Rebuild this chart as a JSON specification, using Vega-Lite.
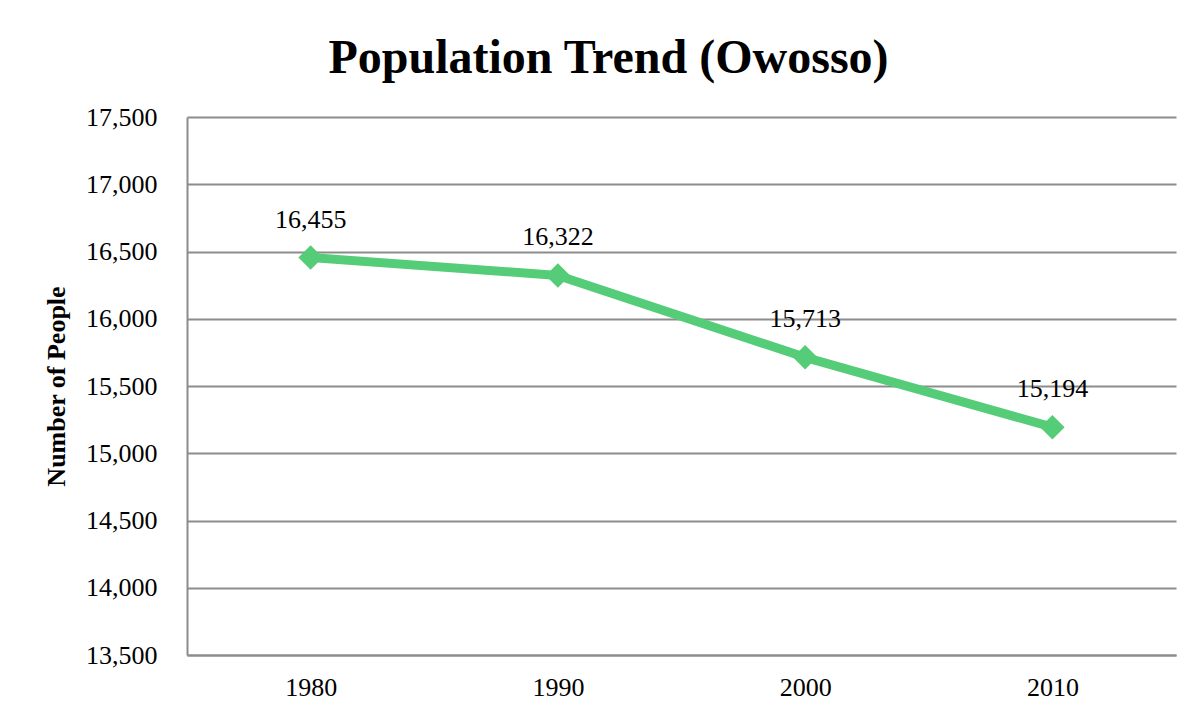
{
  "$schema": "https://vega.github.io/schema/vega-lite/v6.json",
  "width": 989,
  "height": 538,
  "autosize": {"type": "none"},
  "padding": {"left": 187, "top": 117, "right": 20, "bottom": 59},
  "background": "white",
  "title": {
    "text": "Population Trend (Owosso)",
    "font": "Liberation Serif",
    "fontSize": 48,
    "fontWeight": "bold",
    "color": "black",
    "anchor": "middle",
    "dx": -73,
    "offset": 21
  },
  "data": {
    "values": [
      {"year": "1980", "people": 16455},
      {"year": "1990", "people": 16322},
      {"year": "2000", "people": 15713},
      {"year": "2010", "people": 15194}
    ]
  },
  "config": {
    "view": {"stroke": null},
    "axis": {
      "labelFont": "Liberation Serif",
      "labelFontSize": 26,
      "labelColor": "black",
      "titleFont": "Liberation Serif",
      "titleColor": "black",
      "domainColor": "#8c8c8c",
      "domainWidth": 2,
      "gridColor": "#8c8c8c",
      "gridWidth": 2,
      "ticks": false,
      "tickSize": 0
    }
  },
  "encoding": {
    "x": {
      "field": "year",
      "type": "ordinal",
      "scale": {"paddingInner": 0, "paddingOuter": 0},
      "axis": {"title": null, "labelAngle": 0, "labelPadding": 19, "grid": false}
    },
    "y": {
      "field": "people",
      "type": "quantitative",
      "scale": {"domain": [13500, 17500], "nice": false, "zero": false},
      "axis": {
        "title": "Number of People",
        "titleFontSize": 26,
        "titleFontWeight": "bold",
        "titlePadding": 16,
        "values": [13500, 14000, 14500, 15000, 15500, 16000, 16500, 17000, 17500],
        "format": ",d",
        "labelPadding": 30,
        "grid": true
      }
    }
  },
  "layer": [
    {
      "mark": {"type": "line", "color": "#55cc77", "strokeWidth": 9, "strokeJoin": "round"}
    },
    {
      "mark": {"type": "point", "shape": "diamond", "filled": true, "color": "#55cc77", "size": 600, "opacity": 1}
    },
    {
      "mark": {"type": "text", "font": "Liberation Serif", "fontSize": 26, "color": "black", "baseline": "alphabetic", "dy": -30},
      "encoding": {"text": {"field": "people", "type": "quantitative", "format": ",d"}}
    }
  ]
}
